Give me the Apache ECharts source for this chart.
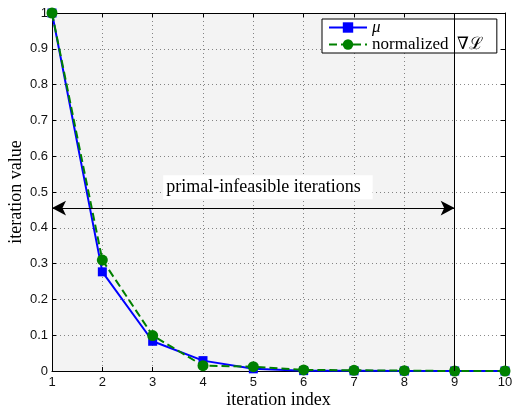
<!DOCTYPE html>
<html>
<head>
<meta charset="utf-8">
<script src="https://cdn.jsdelivr.net/npm/echarts@6/dist/echarts.min.js"></script>
<style>
  html, body { margin: 0; padding: 0; background: #fff; }
  #chart { width: 512px; height: 408px; }
</style>
</head>
<body>
<div id="chart"></div>
<script>
// Iteration history of the barrier parameter and the normalized Lagrangian gradient
const iterations = [1, 2, 3, 4, 5, 6, 7, 8, 9, 10];
const muValues = [1, 0.277, 0.083, 0.029, 0.006, 0.001, 0.0005, 0, 0, 0];
const gradValues = [1, 0.310, 0.099, 0.015, 0.012, 0.003, 0.002, 0.001, 0, 0];
const yTicks = [0, 0.1, 0.2, 0.3, 0.4, 0.5, 0.6, 0.7, 0.8, 0.9, 1];

// last iteration that is still primal-infeasible, and the height of the annotation arrow
const infeasibleEnd = 9;
const arrowLevel = 0.455;
const noteText = 'primal-infeasible iterations';

const serif = '"Liberation Serif", "DejaVu Serif", serif';
const sans = '"Liberation Sans", Arial, sans-serif';

const chart = echarts.init(document.getElementById('chart'), null, { renderer: 'canvas' });

const gridLine = { show: true, lineStyle: { color: '#8a8a8a', type: [1, 3], width: 1 } };
const frame = { show: true, onZero: false, lineStyle: { color: '#000', width: 1 } };
const inTick = { show: true, inside: true, length: 4, lineStyle: { color: '#000' } };

chart.setOption({
  animation: false,
  backgroundColor: '#fff',
  grid: { left: 52, right: 7, top: 13, bottom: 37, containLabel: false, outerBoundsMode: 'none' },
  legend: {
    orient: 'vertical',
    left: 322, top: 19,
    backgroundColor: '#fff',
    borderColor: '#000', borderWidth: 1, borderRadius: 0,
    padding: [0, 14, 0, 6],
    itemGap: 0,
    itemWidth: 38, itemHeight: 13,
    textStyle: { fontFamily: serif, fontSize: 17, color: '#000', lineHeight: 15,
      rich: { it: { fontFamily: serif, fontSize: 17, fontStyle: 'italic', color: '#000', lineHeight: 15 } } },
    formatter: n => n === 'μ' ? '{it|μ}' : 'normalized  ∇ℒ',
    data: ['μ', 'grad']
  },
  xAxis: [
    {
      type: 'value', min: 1, max: 10, interval: 1,
      axisLine: frame, axisTick: inTick, splitLine: gridLine,
      axisLabel: { fontFamily: sans, fontSize: 13, color: '#111', margin: 5 },
      name: 'iteration index', nameLocation: 'middle', nameGap: 20, nameMoveOverlap: false,
      nameTextStyle: { fontFamily: serif, fontSize: 18, color: '#000' }
    },
    {
      type: 'value', min: 1, max: 10, interval: 1, position: 'top',
      axisLine: frame, axisTick: inTick, axisLabel: { show: false }, splitLine: { show: false }
    }
  ],
  yAxis: [
    {
      type: 'value', min: 0, max: 1, interval: 0.1,
      axisLine: frame, axisTick: inTick, splitLine: gridLine,
      axisLabel: { fontFamily: sans, fontSize: 13, color: '#111', margin: 4,
        formatter: v => String(+v.toFixed(1)) },
      name: 'iteration value', nameLocation: 'middle', nameGap: 27, nameMoveOverlap: false,
      nameTextStyle: { fontFamily: serif, fontSize: 18, color: '#000' }
    },
    {
      type: 'value', min: 0, max: 1, interval: 0.1, position: 'right',
      axisLine: frame, axisTick: inTick, axisLabel: { show: false }, splitLine: { show: false }
    }
  ],
  series: [
    {
      name: 'μ',
      type: 'line',
      data: iterations.map((x, i) => [x, muValues[i]]),
      symbol: 'rect', symbolSize: 9,
      lineStyle: { color: '#0000ff', width: 2 },
      itemStyle: { color: '#0000ff' },
      clip: false,
      markArea: {
        silent: true,
        itemStyle: { color: 'rgba(0,0,0,0.048)' },
        data: [[{ xAxis: iterations[0] }, { xAxis: infeasibleEnd }]]
      },
      markLine: {
        silent: true,
        symbol: 'none',
        label: { show: false },
        lineStyle: { color: '#000', type: 'solid', width: 1 },
        data: [
          { xAxis: infeasibleEnd },
          [
            { coord: [iterations[0], arrowLevel], symbol: 'arrow', symbolSize: [11, 14] },
            { coord: [infeasibleEnd, arrowLevel], symbol: 'arrow', symbolSize: [11, 14] }
          ]
        ]
      },
      markPoint: {
        silent: true,
        symbol: 'rect', symbolSize: 0,
        label: {
          show: true, position: 'inside',
          formatter: noteText,
          fontFamily: serif, fontSize: 18, color: '#000',
          backgroundColor: '#fff', padding: [3, 12, 3, 3]
        },
        data: [{ coord: [5.29, 0.513] }]
      }
    },
    {
      name: 'grad',
      type: 'line',
      data: iterations.map((x, i) => [x, gradValues[i]]),
      symbol: 'circle', symbolSize: 11,
      lineStyle: { color: '#008000', width: 2, type: [8, 4] },
      itemStyle: { color: '#008000' },
      clip: false
    }
  ]
});
</script>
</body>
</html>
